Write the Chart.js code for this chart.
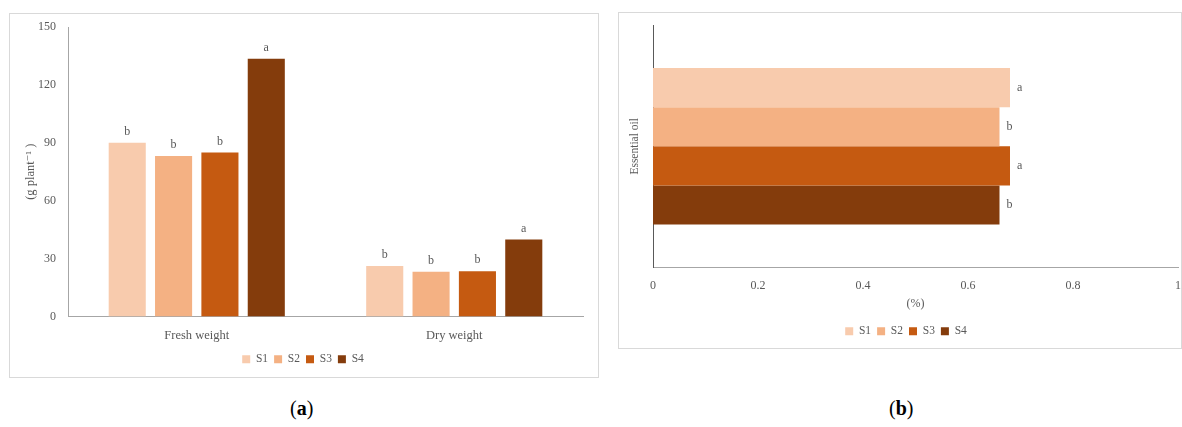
<!DOCTYPE html>
<html>
<head>
<meta charset="utf-8">
<script src="https://cdn.jsdelivr.net/npm/chart.js@4.4.0/dist/chart.umd.min.js"></script>
<style>
  body { margin: 0; background: #fff; width: 1182px; height: 427px; position: relative; overflow: hidden; }
  .box { position: absolute; border: 1px solid #d9d9d9; box-sizing: border-box; }
  .wrap { position: absolute; }
  .cap { position: absolute; font-family: "Liberation Serif", "DejaVu Serif", serif; font-size: 20px; color: #000; }
</style>
</head>
<body>
<div class="box" style="left:9px; top:13px; width:590px; height:365px;"></div>
<div class="wrap" style="left:10px; top:14px; width:588px; height:363px;"><canvas id="weightChart"></canvas></div>
<div class="box" style="left:618px; top:12px; width:564px; height:337px;"></div>
<div class="wrap" style="left:619px; top:13px; width:565px; height:335px;"><canvas id="oilChart"></canvas></div>
<div class="cap" style="left:290px; top:397px;">(<b>a</b>)</div>
<div class="cap" style="left:889px; top:397px;">(<b>b</b>)</div>
<script>
const groups = ['Fresh weight', 'Dry weight'];
const seriesNames = ['S1', 'S2', 'S3', 'S4'];
const seriesColors = ['#F8CBAD', '#F4B183', '#C55A11', '#843C0C'];

// weight values (g plant-1) per series: [fresh, dry]
const s1Weight = [90, 26.2];
const s2Weight = [83.2, 23.2];
const s3Weight = [85, 23.4];
const s4Weight = [133.5, 39.9];
const s1WeightLetters = ['b', 'b'];
const s2WeightLetters = ['b', 'b'];
const s3WeightLetters = ['b', 'b'];
const s4WeightLetters = ['a', 'a'];
const weightTicks = [0, 30, 60, 90, 120, 150];

// essential oil (%) per series
const oilCategory = ['Essential oil'];
const oilValues = [0.68, 0.66, 0.68, 0.66];
const oilLetters = ['a', 'b', 'a', 'b'];
const oilTicks = [0, 0.2, 0.4, 0.6, 0.8, 1];

const FONT = '"Liberation Serif", "DejaVu Serif", serif';
const TXT = '#595959';
Chart.defaults.font.family = FONT;
Chart.defaults.color = TXT;
Chart.defaults.animation = false;

// draws the significance letters next to every bar
const letterPlugin = {
  id: 'letters',
  afterDatasetsDraw(chart) {
    const ctx = chart.ctx;
    const horizontal = chart.options.indexAxis === 'y';
    ctx.save();
    ctx.font = '12px ' + FONT;
    ctx.fillStyle = TXT;
    chart.data.datasets.forEach((ds, i) => {
      chart.getDatasetMeta(i).data.forEach((bar, j) => {
        const t = ds.letters[j];
        if (horizontal) {
          ctx.textAlign = 'left';
          ctx.textBaseline = 'middle';
          ctx.fillText(t, bar.x + 7, bar.y);
        } else {
          ctx.textAlign = 'center';
          ctx.textBaseline = 'bottom';
          ctx.fillText(t, bar.x, bar.y - 5);
        }
      });
    });
    ctx.restore();
  }
};

const legendOpts = {
  position: 'bottom',
  labels: { boxWidth: 8, boxHeight: 8, padding: 6, font: { size: 11.5 }, color: TXT }
};

const weightLetters = [s1WeightLetters, s2WeightLetters, s3WeightLetters, s4WeightLetters];
new Chart(document.getElementById('weightChart'), {
  type: 'bar',
  data: {
    labels: groups,
    datasets: [s1Weight, s2Weight, s3Weight, s4Weight].map((d, i) => ({
      label: seriesNames[i],
      data: d,
      letters: weightLetters[i],
      backgroundColor: seriesColors[i],
      categoryPercentage: 0.72,
      barPercentage: 0.8
    }))
  },
  options: {
    responsive: true,
    maintainAspectRatio: false,
    layout: { padding: { top: 13, right: 15, bottom: 2, left: 13 } },
    plugins: { legend: legendOpts, tooltip: { enabled: false } },
    scales: {
      x: {
        grid: { display: false },
        border: { color: '#a6a6a6' },
        ticks: { font: { size: 12.5 }, color: TXT, padding: 4 }
      },
      y: {
        min: 0, max: 150,
        afterBuildTicks(axis) { axis.ticks = weightTicks.map(v => ({ value: v })); },
        afterFit(axis) { axis.width = 45; },
        grid: { display: false },
        border: { color: '#a6a6a6' },
        ticks: { font: { size: 12 }, color: TXT, padding: 4 },
        title: { display: true, text: '(g plant⁻¹ )', font: { size: 12.5 }, color: TXT, padding: 0 }
      }
    }
  },
  plugins: [letterPlugin]
});

new Chart(document.getElementById('oilChart'), {
  type: 'bar',
  data: {
    labels: oilCategory,
    datasets: oilValues.map((v, i) => ({
      label: seriesNames[i],
      data: [v],
      letters: [oilLetters[i]],
      backgroundColor: seriesColors[i],
      categoryPercentage: 0.645,
      barPercentage: 1.0
    }))
  },
  options: {
    indexAxis: 'y',
    responsive: true,
    maintainAspectRatio: false,
    layout: { padding: { top: 12, right: 0, bottom: 1, left: 9 } },
    plugins: { legend: legendOpts, tooltip: { enabled: false } },
    scales: {
      x: {
        min: 0, max: 1,
        afterBuildTicks(axis) { axis.ticks = oilTicks.map(v => ({ value: v })); },
        grid: { display: false },
        border: { color: '#a6a6a6' },
        ticks: { font: { size: 12 }, color: TXT, padding: 3, callback: v => String(v) },
        title: { display: true, text: '(%)', font: { size: 12 }, color: TXT, padding: { top: 1, bottom: 8 } }
      },
      y: {
        grid: { display: false },
        border: { color: '#595959' },
        ticks: { display: false },
        afterFit(axis) { axis.width = 25; },
        title: { display: true, text: 'Essential oil', font: { size: 11.5 }, color: TXT, padding: 0 }
      }
    }
  },
  plugins: [letterPlugin]
});
</script>
</body>
</html>
